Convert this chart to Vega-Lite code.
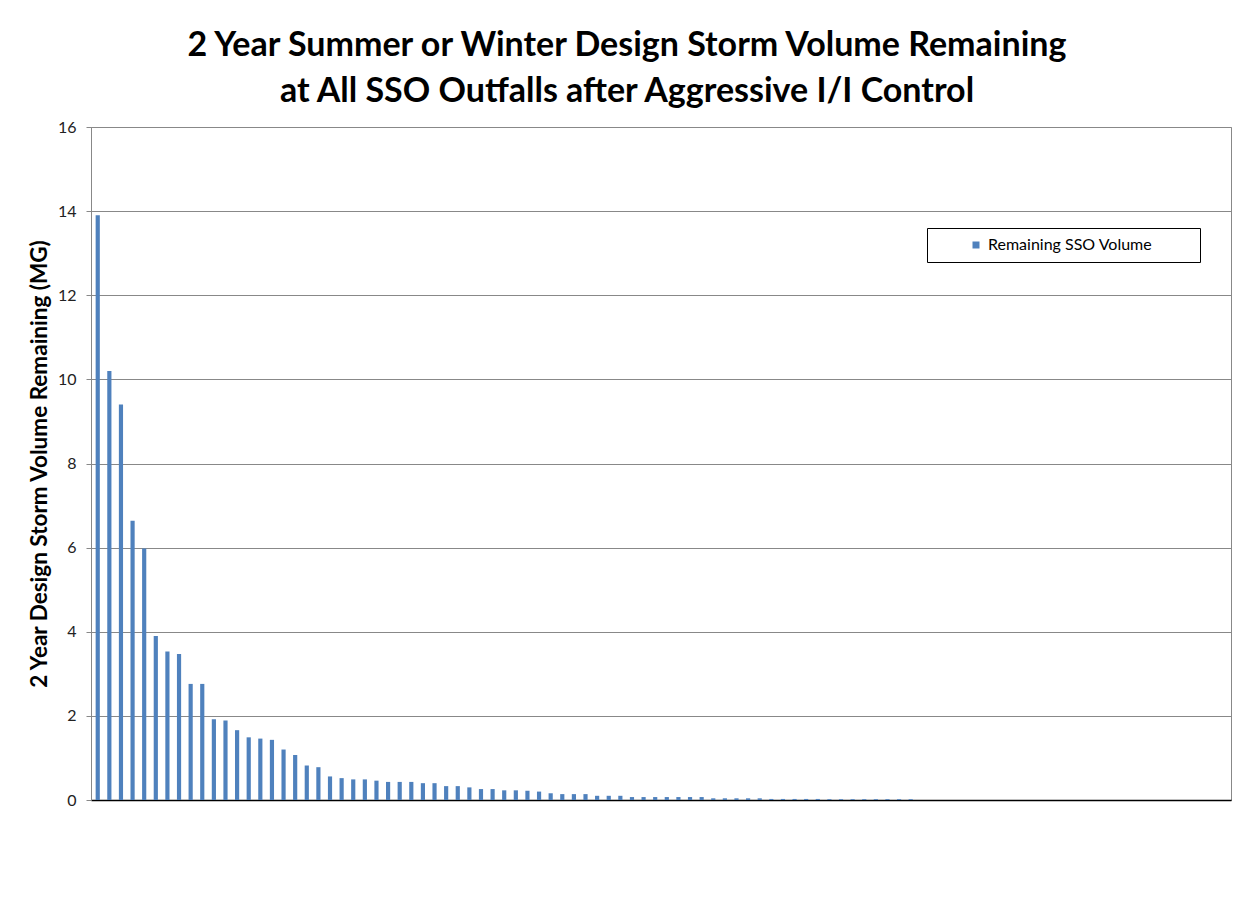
{
  "$schema": "https://vega.github.io/schema/vega-lite/v6.json",
  "autosize": "none",
  "width": 1140,
  "height": 673,
  "padding": {"left": 91, "top": 127, "right": 12, "bottom": 101},
  "background": "white",
  "config": {
    "font": "Lato",
    "view": {"stroke": "#888888", "strokeWidth": 1}
  },
  "title": {
    "text": ["2 Year Summer or Winter Design Storm Volume Remaining", "at All SSO Outfalls after Aggressive I/I Control"],
    "font": "Lato",
    "fontSize": 34,
    "fontWeight": "bold",
    "color": "#000000",
    "anchor": "middle",
    "dx": -34,
    "offset": 10,
    "lineHeight": 46
  },
  "data": {
    "values": [
      {"outfall": 1, "volume": 13.9, "series": "Remaining SSO Volume"},
      {"outfall": 2, "volume": 10.2, "series": "Remaining SSO Volume"},
      {"outfall": 3, "volume": 9.4, "series": "Remaining SSO Volume"},
      {"outfall": 4, "volume": 6.64, "series": "Remaining SSO Volume"},
      {"outfall": 5, "volume": 5.98, "series": "Remaining SSO Volume"},
      {"outfall": 6, "volume": 3.9, "series": "Remaining SSO Volume"},
      {"outfall": 7, "volume": 3.53, "series": "Remaining SSO Volume"},
      {"outfall": 8, "volume": 3.47, "series": "Remaining SSO Volume"},
      {"outfall": 9, "volume": 2.76, "series": "Remaining SSO Volume"},
      {"outfall": 10, "volume": 2.76, "series": "Remaining SSO Volume"},
      {"outfall": 11, "volume": 1.92, "series": "Remaining SSO Volume"},
      {"outfall": 12, "volume": 1.89, "series": "Remaining SSO Volume"},
      {"outfall": 13, "volume": 1.66, "series": "Remaining SSO Volume"},
      {"outfall": 14, "volume": 1.49, "series": "Remaining SSO Volume"},
      {"outfall": 15, "volume": 1.46, "series": "Remaining SSO Volume"},
      {"outfall": 16, "volume": 1.43, "series": "Remaining SSO Volume"},
      {"outfall": 17, "volume": 1.2, "series": "Remaining SSO Volume"},
      {"outfall": 18, "volume": 1.07, "series": "Remaining SSO Volume"},
      {"outfall": 19, "volume": 0.82, "series": "Remaining SSO Volume"},
      {"outfall": 20, "volume": 0.78, "series": "Remaining SSO Volume"},
      {"outfall": 21, "volume": 0.56, "series": "Remaining SSO Volume"},
      {"outfall": 22, "volume": 0.52, "series": "Remaining SSO Volume"},
      {"outfall": 23, "volume": 0.49, "series": "Remaining SSO Volume"},
      {"outfall": 24, "volume": 0.49, "series": "Remaining SSO Volume"},
      {"outfall": 25, "volume": 0.46, "series": "Remaining SSO Volume"},
      {"outfall": 26, "volume": 0.43, "series": "Remaining SSO Volume"},
      {"outfall": 27, "volume": 0.43, "series": "Remaining SSO Volume"},
      {"outfall": 28, "volume": 0.43, "series": "Remaining SSO Volume"},
      {"outfall": 29, "volume": 0.4, "series": "Remaining SSO Volume"},
      {"outfall": 30, "volume": 0.4, "series": "Remaining SSO Volume"},
      {"outfall": 31, "volume": 0.33, "series": "Remaining SSO Volume"},
      {"outfall": 32, "volume": 0.33, "series": "Remaining SSO Volume"},
      {"outfall": 33, "volume": 0.3, "series": "Remaining SSO Volume"},
      {"outfall": 34, "volume": 0.26, "series": "Remaining SSO Volume"},
      {"outfall": 35, "volume": 0.26, "series": "Remaining SSO Volume"},
      {"outfall": 36, "volume": 0.23, "series": "Remaining SSO Volume"},
      {"outfall": 37, "volume": 0.23, "series": "Remaining SSO Volume"},
      {"outfall": 38, "volume": 0.22, "series": "Remaining SSO Volume"},
      {"outfall": 39, "volume": 0.2, "series": "Remaining SSO Volume"},
      {"outfall": 40, "volume": 0.16, "series": "Remaining SSO Volume"},
      {"outfall": 41, "volume": 0.14, "series": "Remaining SSO Volume"},
      {"outfall": 42, "volume": 0.14, "series": "Remaining SSO Volume"},
      {"outfall": 43, "volume": 0.14, "series": "Remaining SSO Volume"},
      {"outfall": 44, "volume": 0.1, "series": "Remaining SSO Volume"},
      {"outfall": 45, "volume": 0.1, "series": "Remaining SSO Volume"},
      {"outfall": 46, "volume": 0.1, "series": "Remaining SSO Volume"},
      {"outfall": 47, "volume": 0.07, "series": "Remaining SSO Volume"},
      {"outfall": 48, "volume": 0.07, "series": "Remaining SSO Volume"},
      {"outfall": 49, "volume": 0.07, "series": "Remaining SSO Volume"},
      {"outfall": 50, "volume": 0.07, "series": "Remaining SSO Volume"},
      {"outfall": 51, "volume": 0.07, "series": "Remaining SSO Volume"},
      {"outfall": 52, "volume": 0.07, "series": "Remaining SSO Volume"},
      {"outfall": 53, "volume": 0.07, "series": "Remaining SSO Volume"},
      {"outfall": 54, "volume": 0.04, "series": "Remaining SSO Volume"},
      {"outfall": 55, "volume": 0.04, "series": "Remaining SSO Volume"},
      {"outfall": 56, "volume": 0.04, "series": "Remaining SSO Volume"},
      {"outfall": 57, "volume": 0.04, "series": "Remaining SSO Volume"},
      {"outfall": 58, "volume": 0.04, "series": "Remaining SSO Volume"},
      {"outfall": 59, "volume": 0.025, "series": "Remaining SSO Volume"},
      {"outfall": 60, "volume": 0.025, "series": "Remaining SSO Volume"},
      {"outfall": 61, "volume": 0.025, "series": "Remaining SSO Volume"},
      {"outfall": 62, "volume": 0.025, "series": "Remaining SSO Volume"},
      {"outfall": 63, "volume": 0.025, "series": "Remaining SSO Volume"},
      {"outfall": 64, "volume": 0.02, "series": "Remaining SSO Volume"},
      {"outfall": 65, "volume": 0.02, "series": "Remaining SSO Volume"},
      {"outfall": 66, "volume": 0.02, "series": "Remaining SSO Volume"},
      {"outfall": 67, "volume": 0.02, "series": "Remaining SSO Volume"},
      {"outfall": 68, "volume": 0.02, "series": "Remaining SSO Volume"},
      {"outfall": 69, "volume": 0.02, "series": "Remaining SSO Volume"},
      {"outfall": 70, "volume": 0.02, "series": "Remaining SSO Volume"},
      {"outfall": 71, "volume": 0.02, "series": "Remaining SSO Volume"},
      {"outfall": 72, "volume": 0, "series": "Remaining SSO Volume"},
      {"outfall": 73, "volume": 0, "series": "Remaining SSO Volume"},
      {"outfall": 74, "volume": 0, "series": "Remaining SSO Volume"},
      {"outfall": 75, "volume": 0, "series": "Remaining SSO Volume"},
      {"outfall": 76, "volume": 0, "series": "Remaining SSO Volume"},
      {"outfall": 77, "volume": 0, "series": "Remaining SSO Volume"},
      {"outfall": 78, "volume": 0, "series": "Remaining SSO Volume"},
      {"outfall": 79, "volume": 0, "series": "Remaining SSO Volume"},
      {"outfall": 80, "volume": 0, "series": "Remaining SSO Volume"},
      {"outfall": 81, "volume": 0, "series": "Remaining SSO Volume"},
      {"outfall": 82, "volume": 0, "series": "Remaining SSO Volume"},
      {"outfall": 83, "volume": 0, "series": "Remaining SSO Volume"},
      {"outfall": 84, "volume": 0, "series": "Remaining SSO Volume"},
      {"outfall": 85, "volume": 0, "series": "Remaining SSO Volume"},
      {"outfall": 86, "volume": 0, "series": "Remaining SSO Volume"},
      {"outfall": 87, "volume": 0, "series": "Remaining SSO Volume"},
      {"outfall": 88, "volume": 0, "series": "Remaining SSO Volume"},
      {"outfall": 89, "volume": 0, "series": "Remaining SSO Volume"},
      {"outfall": 90, "volume": 0, "series": "Remaining SSO Volume"},
      {"outfall": 91, "volume": 0, "series": "Remaining SSO Volume"},
      {"outfall": 92, "volume": 0, "series": "Remaining SSO Volume"},
      {"outfall": 93, "volume": 0, "series": "Remaining SSO Volume"},
      {"outfall": 94, "volume": 0, "series": "Remaining SSO Volume"},
      {"outfall": 95, "volume": 0, "series": "Remaining SSO Volume"},
      {"outfall": 96, "volume": 0, "series": "Remaining SSO Volume"},
      {"outfall": 97, "volume": 0, "series": "Remaining SSO Volume"},
      {"outfall": 98, "volume": 0, "series": "Remaining SSO Volume"}
    ]
  },
  "mark": {"type": "bar"},
  "encoding": {
    "x": {
      "field": "outfall",
      "type": "ordinal",
      "sort": null,
      "scale": {"paddingInner": 0.64, "paddingOuter": 0.4},
      "axis": {
        "title": null,
        "labels": false,
        "ticks": false,
        "grid": false,
        "domain": true,
        "domainColor": "#000000",
        "domainWidth": 1.5
      }
    },
    "y": {
      "field": "volume",
      "type": "quantitative",
      "scale": {"domain": [0, 16], "nice": false},
      "axis": {
        "title": "2 Year Design Storm Volume Remaining (MG)",
        "titleFont": "Lato",
        "titleFontSize": 22.5,
        "titleFontWeight": "bold",
        "titleColor": "#000000",
        "titlePadding": 6,
        "values": [0, 2, 4, 6, 8, 10, 12, 14, 16],
        "labelFont": "Lato",
        "labelFontSize": 16,
        "labelColor": "#222222",
        "labelPadding": 10,
        "tickSize": 5,
        "tickColor": "#888888",
        "domainColor": "#888888",
        "gridColor": "#888888",
        "gridWidth": 1
      }
    },
    "color": {
      "field": "series",
      "type": "nominal",
      "scale": {"range": ["#4F81BD"]},
      "legend": {
        "orient": "none",
        "legendX": 836,
        "legendY": 101,
        "title": " ",
        "titleOrient": "right",
        "titlePadding": 39,
        "padding": 9,
        "symbolOffset": 32,
        "symbolType": "square",
        "symbolSize": 49,
        "symbolStrokeWidth": 0,
        "labelFont": "Lato",
        "labelFontSize": 16,
        "labelLimit": 400,
        "labelColor": "#000000",
        "strokeColor": "#000000",
        "fillColor": "#FFFFFF"
      }
    }
  }
}
